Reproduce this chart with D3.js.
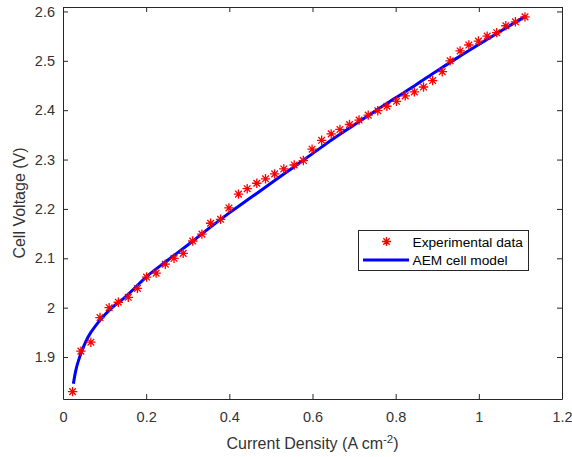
<!DOCTYPE html>
<html>
<head>
<meta charset="utf-8">
<script src="https://cdn.jsdelivr.net/npm/d3@7"></script>
<style>
  body { margin: 0; background: #fff; }
  text { font-family: "Liberation Sans", Arial, Helvetica, sans-serif; }
</style>
</head>
<body>
<svg id="chart" width="572" height="457"></svg>
<script>
const expX = [0.023, 0.043, 0.067, 0.089, 0.111, 0.133, 0.157, 0.179, 0.201, 0.224,
  0.246, 0.267, 0.289, 0.312, 0.334, 0.355, 0.379, 0.399, 0.422, 0.443,
  0.466, 0.487, 0.509, 0.531, 0.556, 0.578, 0.599, 0.622, 0.645, 0.666,
  0.689, 0.712, 0.734, 0.757, 0.779, 0.802, 0.823, 0.845, 0.867, 0.889,
  0.912, 0.931, 0.955, 0.976, 0.999, 1.020, 1.043, 1.065, 1.088, 1.111];
const expY = [1.830, 1.912, 1.930, 1.980, 2.000, 2.011, 2.021, 2.039, 2.062, 2.070,
  2.088, 2.100, 2.110, 2.135, 2.149, 2.171, 2.179, 2.202, 2.230, 2.241,
  2.252, 2.261, 2.271, 2.281, 2.289, 2.298, 2.321, 2.339, 2.352, 2.361,
  2.371, 2.380, 2.390, 2.399, 2.408, 2.418, 2.429, 2.437, 2.447, 2.460,
  2.478, 2.500, 2.520, 2.532, 2.540, 2.550, 2.557, 2.571, 2.579, 2.589];

// AEM cell model curve
const modelX = [0.025, 0.03, 0.04, 0.05, 0.06, 0.08, 0.10, 0.125, 0.15, 0.2,
  0.25, 0.3, 0.35, 0.4, 0.45, 0.5, 0.55, 0.6, 0.65, 0.7,
  0.75, 0.8, 0.85, 0.9, 0.95, 1.0, 1.05, 1.11];
const modelY = [1.846, 1.870, 1.900, 1.922, 1.940, 1.965, 1.985, 2.005, 2.022, 2.062,
  2.095, 2.127, 2.160, 2.192, 2.222, 2.252, 2.282, 2.312, 2.342, 2.370,
  2.398, 2.425, 2.452, 2.480, 2.507, 2.533, 2.559, 2.589];

const xTicks = [0, 0.2, 0.4, 0.6, 0.8, 1, 1.2];
const yTicks = [1.9, 2, 2.1, 2.2, 2.3, 2.4, 2.5, 2.6];
const xLabel = "Current Density (A cm";
const yLabel = "Cell Voltage (V)";
const legendLabels = ["Experimental data", "AEM cell model"];

const svg = d3.select("#chart");
const L = 63, R = 562, T = 7, B = 399;
const axisColor = "#262626";

const x = d3.scaleLinear().domain([0, 1.2]).range([L, R]);
const y = d3.scaleLinear().domain([1.815, 2.609]).range([B, T]);

// Axes
const fmt = d => String(d);
const gx = svg.append("g").attr("transform", `translate(0,${B})`)
  .call(d3.axisBottom(x).tickValues(xTicks).tickFormat(fmt).tickSizeInner(-5).tickSizeOuter(0).tickPadding(13));
const gy = svg.append("g").attr("transform", `translate(${L},0)`)
  .call(d3.axisLeft(y).tickValues(yTicks).tickFormat(fmt).tickSizeInner(-5).tickSizeOuter(0).tickPadding(8));
const gxt = svg.append("g").attr("transform", `translate(0,${T})`)
  .call(d3.axisTop(x).tickValues(xTicks).tickFormat("").tickSizeInner(-5).tickSizeOuter(0));
const gyr = svg.append("g").attr("transform", `translate(${R},0)`)
  .call(d3.axisRight(y).tickValues(yTicks).tickFormat("").tickSizeInner(-5).tickSizeOuter(0));

[gx, gy, gxt, gyr].forEach(g => {
  g.selectAll("path.domain").attr("stroke", axisColor).attr("stroke-width", 1);
  g.selectAll(".tick line").attr("stroke", axisColor).attr("stroke-width", 1);
  g.selectAll(".tick text").attr("fill", "#333").style("font-size", "14.5px")
    .style("font-family", "'Liberation Sans', Arial, sans-serif");
});

// Axis labels
const xl = svg.append("text").attr("x", (L + R) / 2).attr("y", 449)
  .attr("text-anchor", "middle").attr("fill", "#333").style("font-size", "16px");
xl.append("tspan").text(xLabel);
xl.append("tspan").attr("dy", -6).style("font-size", "11.5px").text("-2");
xl.append("tspan").attr("dy", 6).text(")");

svg.append("text").attr("transform", `translate(25,${(T + B) / 2}) rotate(-90)`)
  .attr("text-anchor", "middle").attr("fill", "#333").style("font-size", "16px").text(yLabel);

// Model line
const modelData = modelX.map((v, i) => [v, modelY[i]]);
svg.append("path").datum(modelData)
  .attr("fill", "none").attr("stroke", "#0000ff").attr("stroke-width", 3)
  .attr("d", d3.line().x(d => x(d[0])).y(d => y(d[1])).curve(d3.curveMonotoneX));

// Asterisk marker
function asterisk(g, cx, cy, r) {
  const p = [];
  for (let k = 0; k < 4; k++) {
    const a = k * Math.PI / 4;
    const dx = r * Math.cos(a), dy = r * Math.sin(a);
    p.push(`M${cx - dx},${cy - dy}L${cx + dx},${cy + dy}`);
  }
  g.append("path").attr("d", p.join("")).attr("stroke", "#ff0000").attr("stroke-width", 1.3).attr("fill", "none");
}
const gm = svg.append("g");
expX.forEach((v, i) => asterisk(gm, x(v), y(expY[i]), 4.7));

// Legend
const lg = svg.append("g");
lg.append("rect").attr("x", 358.5).attr("y", 230.5).attr("width", 170).attr("height", 40)
  .attr("fill", "#fff").attr("stroke", axisColor).attr("stroke-width", 1);
asterisk(lg, 386.5, 241.5, 4.5);
lg.append("line").attr("x1", 363).attr("x2", 409).attr("y1", 260).attr("y2", 260)
  .attr("stroke", "#0000ff").attr("stroke-width", 3);
lg.append("text").attr("x", 412.5).attr("y", 246.5).attr("fill", "#000").style("font-size", "13.7px").text(legendLabels[0]);
lg.append("text").attr("x", 412.5).attr("y", 265).attr("fill", "#000").style("font-size", "13.7px").text(legendLabels[1]);
</script>
</body>
</html>
